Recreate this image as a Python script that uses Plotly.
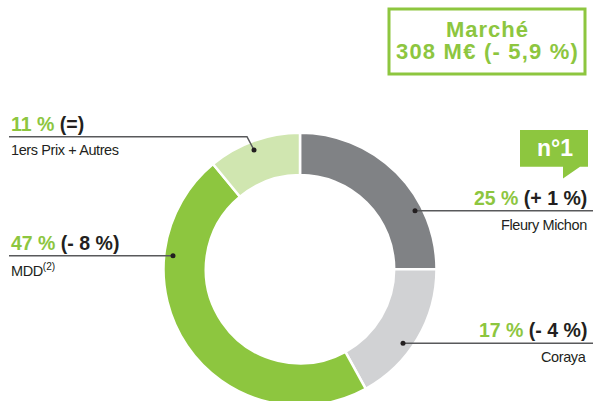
import plotly.graph_objects as go

W, H = 593, 406

labels = ["Fleury Michon", "Coraya", "MDD", "1ers Prix + Autres"]
shares = [25, 17, 47, 11]
changes = ["(+ 1 %)", "(- 4 %)", "(- 8 %)", "(=)"]
colors = ["#808285", "#D1D2D4", "#8DC63F", "#D0E6B0"]
market_title = "Marché"
market_value = "308 M€ (- 5,9 %)"
rank_label = "n°1"

GREEN = "#8DC63F"
DARK = "#231F20"
LINE = "#58595B"


def px(x):
    return x / W


def py(y):
    return 1 - y / H


cx, r = 300, 136.5
top = 132.5
fig = go.Figure(go.Pie(
    labels=labels,
    values=shares,
    sort=False,
    direction="clockwise",
    rotation=0,
    hole=0.69,
    marker=dict(colors=colors, line=dict(color="white", width=2.5)),
    textinfo="none",
    hoverinfo="label+percent",
    showlegend=False,
    domain=dict(x=[px(cx - r), px(cx + r)], y=[0, py(top)]),
))

big = dict(family="Liberation Sans, Arial, sans-serif", size=19.5, color=DARK)
small = dict(family="Liberation Sans, Arial, sans-serif", size=14.5, color=DARK)
boxfont = dict(family="Liberation Sans, Arial, sans-serif", size=22, color=GREEN)


def head(i):
    return f"<b><span style='color:{GREEN}'>{shares[i]} %</span> {changes[i]}</b>"


def sub(t):
    return f"<span style='letter-spacing:-0.4px'>{t}</span>"


annotations = []
shapes = []


def callout(i, side, head_y, sub_y, sub_text, path_pts, dot):
    if side == "left":
        xa, xanchor = px(9), "left"
    else:
        xa, xanchor = px(589), "right"
    annotations.append(dict(x=xa, y=py(head_y), xref="paper", yref="paper",
                            xanchor=xanchor, yanchor="middle", showarrow=False,
                            text=head(i), font=big))
    annotations.append(dict(x=xa, y=py(sub_y), xref="paper", yref="paper",
                            xanchor=xanchor, yanchor="middle", showarrow=False,
                            text=sub_text, font=small))
    d = "M " + " L ".join(f"{px(a)},{py(b)}" for a, b in path_pts)
    shapes.append(dict(type="path", path=d, xref="paper", yref="paper",
                       line=dict(color=LINE, width=1.5)))
    dx, dy = dot
    shapes.append(dict(type="circle", xref="paper", yref="paper",
                       x0=px(dx - 2.5), x1=px(dx + 2.5), y0=py(dy - 2.5), y1=py(dy + 2.5),
                       fillcolor=DARK, line=dict(width=0)))


# 1ers Prix + Autres
callout(3, "left", 124, 150, sub(labels[3]),
        [(9, 136.7), (247, 136.7), (254, 150)], (254, 150))
# MDD
callout(2, "left", 243, 270, sub("MDD") + "<sup>(2)</sup>",
        [(9, 255.7), (173, 255.7)], (173, 255.7))
# Fleury Michon
callout(0, "right", 198, 225, sub(labels[0]),
        [(593, 210.7), (415, 210.7)], (415, 210.7))
# Coraya
callout(1, "right", 330, 357, sub(labels[1]),
        [(593, 343.3), (403, 343.3)], (403, 343.3))

# Market box
shapes.append(dict(type="rect", xref="paper", yref="paper",
                   x0=px(389), x1=px(585), y0=py(9), y1=py(74),
                   line=dict(color=GREEN, width=3), fillcolor="white"))
annotations.append(dict(x=px(487), y=py(29.5), xref="paper", yref="paper",
                        xanchor="center", yanchor="middle", showarrow=False,
                        text=f"<b><span style='letter-spacing:1px'>{market_title}</span></b>",
                        font=boxfont))
annotations.append(dict(x=px(487), y=py(51.5), xref="paper", yref="paper",
                        xanchor="center", yanchor="middle", showarrow=False,
                        text=f"<b><span style='letter-spacing:1.2px'>{market_value}</span></b>",
                        font=boxfont))

# n°1 badge
badge = [(520, 130), (588, 130), (588, 166.7), (580, 166.7), (563, 178.5), (563, 166.7), (520, 166.7)]
shapes.append(dict(type="path", xref="paper", yref="paper",
                   path="M " + " L ".join(f"{px(a)},{py(b)}" for a, b in badge) + " Z",
                   fillcolor=GREEN, line=dict(width=0)))
annotations.append(dict(x=px(554.5), y=py(148), xref="paper", yref="paper",
                        xanchor="center", yanchor="middle", showarrow=False,
                        text=f"<b>{rank_label}</b>",
                        font=dict(family="Liberation Sans, Arial, sans-serif", size=23, color="white")))

fig.update_layout(
    width=W, height=H,
    margin=dict(l=0, r=0, t=0, b=0),
    paper_bgcolor="white", plot_bgcolor="white",
    annotations=annotations, shapes=shapes,
)

post = ("document.body.style.margin='0';"
        "document.body.style.overflow='hidden';"
        "document.documentElement.style.overflow='hidden';")
fig.write_html("out.html", post_script=post, config={"displayModeBar": False})
